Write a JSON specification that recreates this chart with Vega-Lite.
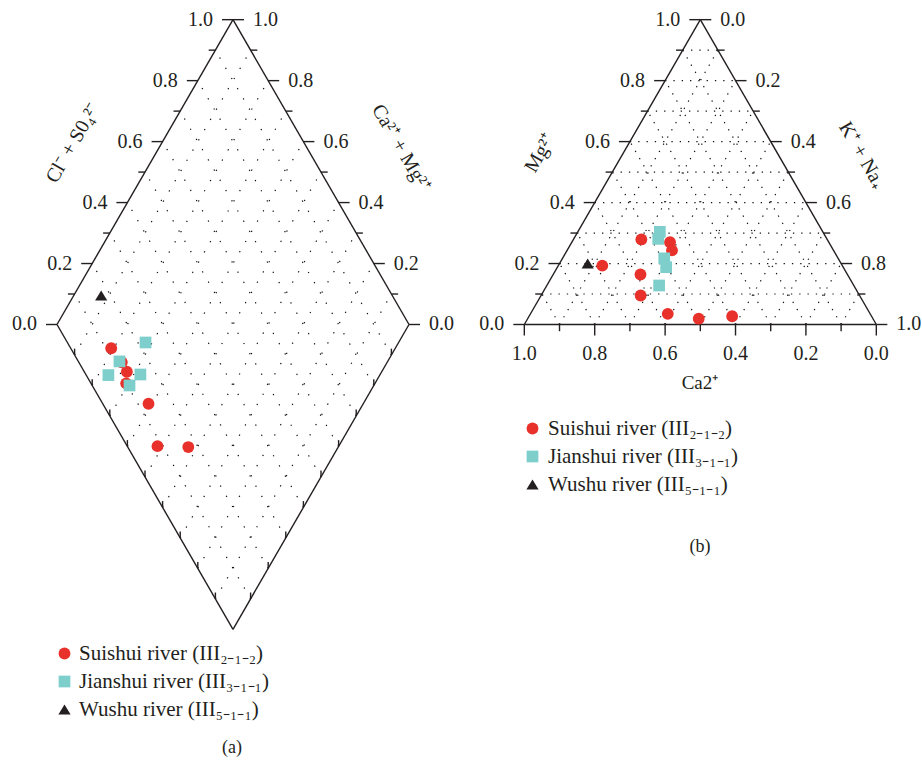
{
  "$schema": "https://vega.github.io/schema/vega-lite/v6.json",
  "width": 922,
  "height": 767,
  "padding": 0,
  "autosize": {"type": "none"},
  "background": "white",
  "config": {"view": {"stroke": null}, "font": "Liberation Serif"},
  "resolve": {"scale": {"color": "independent", "shape": "independent", "size": "independent"}},
  "layer": [
    {
      "data": {"values": [
        {"fam": "a", "v": [0, 0.1, 0.2, 0.3, 0.4, 0.5, 0.6, 0.7, 0.8, 0.9, 1]},
        {"fam": "b", "v": [0, 0.1, 0.2, 0.3, 0.4, 0.5, 0.6, 0.7, 0.8, 0.9, 1]}
      ]},
      "transform": [
        {"flatten": ["v"]},
        {"calculate": "datum.fam=='a' ? datum.v : 0", "as": "a1"},
        {"calculate": "datum.fam=='a' ? 0 : datum.v", "as": "b1"},
        {"calculate": "datum.fam=='a' ? datum.v : 1", "as": "a2"},
        {"calculate": "datum.fam=='a' ? 1 : datum.v", "as": "b2"},
        {"calculate": "0.5+0.5*(datum.a1-datum.b1)", "as": "x1"},
        {"calculate": "0.866*(datum.a1+datum.b1-1)", "as": "y1"},
        {"calculate": "0.5+0.5*(datum.a2-datum.b2)", "as": "x2"},
        {"calculate": "0.866*(datum.a2+datum.b2-1)", "as": "y2"},
        {"calculate": "datum.v<0.001 || datum.v>0.999", "as": "frame"}
      ],
      "layer": [
        {
          "transform": [{"filter": "!datum.frame"}],
          "mark": {"type": "rule", "strokeDash": [1.3, 10.5], "color": "#111111", "strokeWidth": 1.2},
          "encoding": {
            "x": {"field": "x1", "type": "quantitative", "scale": {"domain": [-0.16193, 2.45739], "nice": false, "zero": false}, "axis": null},
            "y": {"field": "y1", "type": "quantitative", "scale": {"domain": [-1.2571, 0.92187], "nice": false, "zero": false}, "axis": null},
            "x2": {"field": "x2"},
            "y2": {"field": "y2"}
          }
        },
        {
          "transform": [{"filter": "datum.frame"}],
          "mark": {"type": "rule", "color": "#231F20", "strokeWidth": 1.4},
          "encoding": {
            "x": {"field": "x1", "type": "quantitative", "scale": {"domain": [-0.16193, 2.45739], "nice": false, "zero": false}, "axis": null},
            "y": {"field": "y1", "type": "quantitative", "scale": {"domain": [-1.2571, 0.92187], "nice": false, "zero": false}, "axis": null},
            "x2": {"field": "x2"},
            "y2": {"field": "y2"}
          }
        }
      ]
    },
    {
      "data": {"values": [
        {"fam": "mg", "v": [0, 0.1, 0.2, 0.3, 0.4, 0.5, 0.6, 0.7, 0.8, 0.9]},
        {"fam": "ca", "v": [0, 0.1, 0.2, 0.3, 0.4, 0.5, 0.6, 0.7, 0.8, 0.9]},
        {"fam": "nak", "v": [0, 0.1, 0.2, 0.3, 0.4, 0.5, 0.6, 0.7, 0.8, 0.9]}
      ]},
      "transform": [
        {"flatten": ["v"]},
        {"calculate": "datum.fam=='mg' ? 0 : datum.fam=='ca' ? 1-datum.v : datum.v", "as": "n1"},
        {"calculate": "datum.fam=='mg' ? datum.v : 0", "as": "m1"},
        {"calculate": "datum.fam=='mg' ? 1-datum.v : datum.fam=='ca' ? 0 : datum.v", "as": "n2"},
        {"calculate": "datum.fam=='mg' ? datum.v : 1-datum.v", "as": "m2"},
        {"calculate": "1.3276+datum.n1+0.5*datum.m1", "as": "x1"},
        {"calculate": "0.866*datum.m1", "as": "y1"},
        {"calculate": "1.3276+datum.n2+0.5*datum.m2", "as": "x2"},
        {"calculate": "0.866*datum.m2", "as": "y2"},
        {"calculate": "datum.v<0.001", "as": "frame"}
      ],
      "layer": [
        {
          "transform": [{"filter": "!datum.frame"}],
          "mark": {"type": "rule", "strokeDash": [1.3, 7], "color": "#111111", "strokeWidth": 1.2},
          "encoding": {
            "x": {"field": "x1", "type": "quantitative", "scale": {"domain": [-0.16193, 2.45739], "nice": false, "zero": false}, "axis": null},
            "y": {"field": "y1", "type": "quantitative", "scale": {"domain": [-1.2571, 0.92187], "nice": false, "zero": false}, "axis": null},
            "x2": {"field": "x2"},
            "y2": {"field": "y2"}
          }
        },
        {
          "transform": [{"filter": "datum.frame"}],
          "mark": {"type": "rule", "color": "#231F20", "strokeWidth": 1.4},
          "encoding": {
            "x": {"field": "x1", "type": "quantitative", "scale": {"domain": [-0.16193, 2.45739], "nice": false, "zero": false}, "axis": null},
            "y": {"field": "y1", "type": "quantitative", "scale": {"domain": [-1.2571, 0.92187], "nice": false, "zero": false}, "axis": null},
            "x2": {"field": "x2"},
            "y2": {"field": "y2"}
          }
        }
      ]
    },
    {
      "data": {"values": [
        {"edge": "UL", "v": [0, 0.1, 0.2, 0.3, 0.4, 0.5, 0.6, 0.7, 0.8, 0.9, 1]},
        {"edge": "UR", "v": [0, 0.1, 0.2, 0.3, 0.4, 0.5, 0.6, 0.7, 0.8, 0.9, 1]},
        {"edge": "LL", "v": [0.1, 0.2, 0.3, 0.4, 0.5, 0.6, 0.7, 0.8, 0.9]},
        {"edge": "LR", "v": [0.1, 0.2, 0.3, 0.4, 0.5, 0.6, 0.7, 0.8, 0.9]},
        {"edge": "L", "v": [0, 0.1, 0.2, 0.3, 0.4, 0.5, 0.6, 0.7, 0.8, 0.9, 1]},
        {"edge": "R", "v": [0, 0.1, 0.2, 0.3, 0.4, 0.5, 0.6, 0.7, 0.8, 0.9, 1]},
        {"edge": "B", "v": [0, 0.1, 0.2, 0.3, 0.4, 0.5, 0.6, 0.7, 0.8, 0.9, 1]}
      ]},
      "transform": [
        {"flatten": ["v"]},
        {"calculate": "round(datum.v*10)%2==0", "as": "major"},
        {"calculate": "datum.major ? 0.03125 : 0.019", "as": "len"},
        {"calculate": "datum.edge=='UL' ? 0.5*datum.v : datum.edge=='UR' ? 1-0.5*datum.v : datum.edge=='LL' ? 0.5-0.5*datum.v : datum.edge=='LR' ? 0.5+0.5*datum.v : datum.edge=='L' ? 1.3276+0.5*datum.v : datum.edge=='R' ? 1.8276+0.5*datum.v : 2.3276-datum.v", "as": "px"},
        {"calculate": "(datum.edge=='UL'||datum.edge=='UR'||datum.edge=='L') ? 0.866*datum.v : (datum.edge=='LL'||datum.edge=='LR') ? 0.866*datum.v-0.866 : datum.edge=='R' ? 0.866*(1-datum.v) : 0", "as": "py"},
        {"calculate": "(datum.edge=='UL'||datum.edge=='L') ? datum.px-datum.len : (datum.edge=='UR'||datum.edge=='R') ? datum.px+datum.len : datum.px", "as": "tx"},
        {"calculate": "datum.edge=='B' ? datum.py-datum.len : (datum.edge=='LL'||datum.edge=='LR') ? datum.py+0.018 : datum.py", "as": "ty"},
        {"calculate": "format(datum.v, '.1f')", "as": "lab"}
      ],
      "layer": [
        {
          "mark": {"type": "rule", "color": "#231F20", "strokeWidth": 1.4},
          "encoding": {
            "x": {"field": "px", "type": "quantitative", "scale": {"domain": [-0.16193, 2.45739], "nice": false, "zero": false}, "axis": null},
            "y": {"field": "py", "type": "quantitative", "scale": {"domain": [-1.2571, 0.92187], "nice": false, "zero": false}, "axis": null},
            "x2": {"field": "tx"},
            "y2": {"field": "ty"}
          }
        },
        {
          "transform": [{"filter": "(datum.edge=='UL'||datum.edge=='L') && datum.major"}],
          "mark": {"type": "text", "align": "right", "baseline": "middle", "dx": -9, "fontSize": 20, "font": "Liberation Serif", "color": "#231F20"},
          "encoding": {
            "x": {"field": "tx", "type": "quantitative", "scale": {"domain": [-0.16193, 2.45739], "nice": false, "zero": false}, "axis": null},
            "y": {"field": "py", "type": "quantitative", "scale": {"domain": [-1.2571, 0.92187], "nice": false, "zero": false}, "axis": null},
            "text": {"field": "lab"}
          }
        },
        {
          "transform": [{"filter": "(datum.edge=='UR'||datum.edge=='R') && datum.major"}],
          "mark": {"type": "text", "align": "left", "baseline": "middle", "dx": 9, "fontSize": 20, "font": "Liberation Serif", "color": "#231F20"},
          "encoding": {
            "x": {"field": "tx", "type": "quantitative", "scale": {"domain": [-0.16193, 2.45739], "nice": false, "zero": false}, "axis": null},
            "y": {"field": "py", "type": "quantitative", "scale": {"domain": [-1.2571, 0.92187], "nice": false, "zero": false}, "axis": null},
            "text": {"field": "lab"}
          }
        },
        {
          "transform": [{"filter": "datum.edge=='B' && datum.major"}],
          "mark": {"type": "text", "align": "center", "baseline": "top", "dy": 9, "fontSize": 20, "font": "Liberation Serif", "color": "#231F20"},
          "encoding": {
            "x": {"field": "px", "type": "quantitative", "scale": {"domain": [-0.16193, 2.45739], "nice": false, "zero": false}, "axis": null},
            "y": {"field": "ty", "type": "quantitative", "scale": {"domain": [-1.2571, 0.92187], "nice": false, "zero": false}, "axis": null},
            "text": {"field": "lab"}
          }
        }
      ]
    },
    {
      "data": {"values": [{}]},
      "layer": [
        {
          "mark": {"type": "text", "text": "Cl⁻ + S0₄²⁻", "angle": -60, "align": "center", "baseline": "middle", "fontSize": 20, "font": "Liberation Serif", "color": "#231F20"},
          "encoding": {
            "x": {"datum": 0.0455, "type": "quantitative", "scale": {"domain": [-0.16193, 2.45739], "nice": false, "zero": false}, "axis": null},
            "y": {"datum": 0.5156, "type": "quantitative", "scale": {"domain": [-1.2571, 0.92187], "nice": false, "zero": false}, "axis": null}
          }
        },
        {
          "mark": {"type": "text", "text": "Ca²⁺ + Mg²⁺", "angle": 60, "align": "center", "baseline": "middle", "fontSize": 20, "font": "Liberation Serif", "color": "#231F20"},
          "encoding": {
            "x": {"datum": 0.9773, "type": "quantitative", "scale": {"domain": [-0.16193, 2.45739], "nice": false, "zero": false}, "axis": null},
            "y": {"datum": 0.5014, "type": "quantitative", "scale": {"domain": [-1.2571, 0.92187], "nice": false, "zero": false}, "axis": null}
          }
        },
        {
          "mark": {"type": "text", "text": "Mg²⁺", "angle": -60, "align": "center", "baseline": "middle", "fontSize": 20, "font": "Liberation Serif", "color": "#231F20"},
          "encoding": {
            "x": {"datum": 1.3722, "type": "quantitative", "scale": {"domain": [-0.16193, 2.45739], "nice": false, "zero": false}, "axis": null},
            "y": {"datum": 0.4872, "type": "quantitative", "scale": {"domain": [-1.2571, 0.92187], "nice": false, "zero": false}, "axis": null}
          }
        },
        {
          "mark": {"type": "text", "text": "K⁺ + Na₊", "angle": 60, "align": "center", "baseline": "middle", "fontSize": 20, "font": "Liberation Serif", "color": "#231F20"},
          "encoding": {
            "x": {"datum": 2.2869, "type": "quantitative", "scale": {"domain": [-0.16193, 2.45739], "nice": false, "zero": false}, "axis": null},
            "y": {"datum": 0.4815, "type": "quantitative", "scale": {"domain": [-1.2571, 0.92187], "nice": false, "zero": false}, "axis": null}
          }
        },
        {
          "mark": {"type": "text", "text": "Ca2⁺", "align": "center", "baseline": "middle", "fontSize": 19, "font": "Liberation Serif", "color": "#231F20"},
          "encoding": {
            "x": {"datum": 1.8267, "type": "quantitative", "scale": {"domain": [-0.16193, 2.45739], "nice": false, "zero": false}, "axis": null},
            "y": {"datum": -0.1662, "type": "quantitative", "scale": {"domain": [-1.2571, 0.92187], "nice": false, "zero": false}, "axis": null}
          }
        },
        {
          "mark": {"type": "text", "text": "(a)", "align": "center", "baseline": "middle", "fontSize": 18, "font": "Liberation Serif", "color": "#231F20"},
          "encoding": {
            "x": {"datum": 0.4972, "type": "quantitative", "scale": {"domain": [-0.16193, 2.45739], "nice": false, "zero": false}, "axis": null},
            "y": {"datum": -1.2031, "type": "quantitative", "scale": {"domain": [-1.2571, 0.92187], "nice": false, "zero": false}, "axis": null}
          }
        },
        {
          "mark": {"type": "text", "text": "(b)", "align": "center", "baseline": "middle", "fontSize": 18, "font": "Liberation Serif", "color": "#231F20"},
          "encoding": {
            "x": {"datum": 1.8267, "type": "quantitative", "scale": {"domain": [-0.16193, 2.45739], "nice": false, "zero": false}, "axis": null},
            "y": {"datum": -0.6321, "type": "quantitative", "scale": {"domain": [-1.2571, 0.92187], "nice": false, "zero": false}, "axis": null}
          }
        }
      ]
    },
    {
      "data": {"values": [
        {"river": "Suishui river (III₂₋₁₋₂)", "clso4": 0.115, "camg": 0.807},
        {"river": "Suishui river (III₂₋₁₋₂)", "clso4": 0.122, "camg": 0.754},
        {"river": "Suishui river (III₂₋₁₋₂)", "clso4": 0.121, "camg": 0.724},
        {"river": "Suishui river (III₂₋₁₋₂)", "clso4": 0.100, "camg": 0.707},
        {"river": "Suishui river (III₂₋₁₋₂)", "clso4": 0.130, "camg": 0.610},
        {"river": "Suishui river (III₂₋₁₋₂)", "clso4": 0.086, "camg": 0.515},
        {"river": "Suishui river (III₂₋₁₋₂)", "clso4": 0.172, "camg": 0.426},
        {"river": "Jianshui river (III₃₋₁₋₁)", "clso4": 0.222, "camg": 0.719},
        {"river": "Jianshui river (III₃₋₁₋₁)", "clso4": 0.117, "camg": 0.762},
        {"river": "Jianshui river (III₃₋₁₋₁)", "clso4": 0.063, "camg": 0.771},
        {"river": "Jianshui river (III₃₋₁₋₁)", "clso4": 0.155, "camg": 0.681},
        {"river": "Jianshui river (III₃₋₁₋₁)", "clso4": 0.106, "camg": 0.694},
        {"river": "Wushu river (III₅₋₁₋₁)", "clso4": 0.173, "camg": 0.922}
      ]},
      "transform": [
        {"calculate": "0.5+0.5*(datum.clso4-datum.camg)", "as": "x"},
        {"calculate": "0.866*(datum.clso4+datum.camg-1)", "as": "y"}
      ],
      "mark": {"type": "point", "filled": true, "opacity": 1, "strokeWidth": 0},
      "encoding": {
        "x": {"field": "x", "type": "quantitative", "scale": {"domain": [-0.16193, 2.45739], "nice": false, "zero": false}, "axis": null},
        "y": {"field": "y", "type": "quantitative", "scale": {"domain": [-1.2571, 0.92187], "nice": false, "zero": false}, "axis": null},
        "color": {"field": "river", "type": "nominal",
          "scale": {"domain": ["Suishui river (III₂₋₁₋₂)", "Jianshui river (III₃₋₁₋₁)", "Wushu river (III₅₋₁₋₁)"], "range": ["#E8312A", "#7ECFCC", "#231F20"]},
          "legend": {"title": null, "orient": "none", "legendX": 54, "legendY": 643, "padding": 0, "labelFont": "Liberation Serif", "labelFontSize": 21, "labelColor": "#231F20", "symbolSize": 160, "symbolStrokeWidth": 0, "rowPadding": 6, "labelOffset": 4, "labelLimit": 400}},
        "shape": {"field": "river", "type": "nominal",
          "scale": {"domain": ["Suishui river (III₂₋₁₋₂)", "Jianshui river (III₃₋₁₋₁)", "Wushu river (III₅₋₁₋₁)"], "range": ["circle", "square", "M0,-0.86L1.05,0.86L-1.05,0.86Z"]},
          "legend": {"title": null, "orient": "none", "legendX": 54, "legendY": 643, "padding": 0, "labelFont": "Liberation Serif", "labelFontSize": 21, "labelColor": "#231F20", "symbolSize": 160, "symbolStrokeWidth": 0, "rowPadding": 6, "labelOffset": 4, "labelLimit": 400}},
        "size": {"field": "river", "type": "ordinal",
          "scale": {"domain": ["Suishui river (III₂₋₁₋₂)", "Jianshui river (III₃₋₁₋₁)", "Wushu river (III₅₋₁₋₁)"], "range": [140, 135, 180]},
          "legend": null}
      }
    },
    {
      "data": {"values": [
        {"river": "Suishui river (III₂₋₁₋₂)", "ca": 0.682, "mg": 0.193, "nak": 0.125},
        {"river": "Suishui river (III₂₋₁₋₂)", "ca": 0.528, "mg": 0.279, "nak": 0.193},
        {"river": "Suishui river (III₂₋₁₋₂)", "ca": 0.451, "mg": 0.270, "nak": 0.279},
        {"river": "Suishui river (III₂₋₁₋₂)", "ca": 0.459, "mg": 0.243, "nak": 0.298},
        {"river": "Suishui river (III₂₋₁₋₂)", "ca": 0.588, "mg": 0.164, "nak": 0.248},
        {"river": "Suishui river (III₂₋₁₋₂)", "ca": 0.622, "mg": 0.095, "nak": 0.283},
        {"river": "Suishui river (III₂₋₁₋₂)", "ca": 0.575, "mg": 0.035, "nak": 0.390},
        {"river": "Suishui river (III₂₋₁₋₂)", "ca": 0.495, "mg": 0.019, "nak": 0.486},
        {"river": "Suishui river (III₂₋₁₋₂)", "ca": 0.396, "mg": 0.027, "nak": 0.577},
        {"river": "Jianshui river (III₃₋₁₋₁)", "ca": 0.463, "mg": 0.304, "nak": 0.233},
        {"river": "Jianshui river (III₃₋₁₋₁)", "ca": 0.479, "mg": 0.281, "nak": 0.240},
        {"river": "Jianshui river (III₃₋₁₋₁)", "ca": 0.494, "mg": 0.217, "nak": 0.289},
        {"river": "Jianshui river (III₃₋₁₋₁)", "ca": 0.503, "mg": 0.188, "nak": 0.309},
        {"river": "Jianshui river (III₃₋₁₋₁)", "ca": 0.553, "mg": 0.128, "nak": 0.319},
        {"river": "Wushu river (III₅₋₁₋₁)", "ca": 0.720, "mg": 0.200, "nak": 0.080}
      ]},
      "transform": [
        {"calculate": "1.3276+datum.nak+0.5*datum.mg", "as": "x"},
        {"calculate": "0.866*datum.mg", "as": "y"}
      ],
      "mark": {"type": "point", "filled": true, "opacity": 1, "strokeWidth": 0},
      "encoding": {
        "x": {"field": "x", "type": "quantitative", "scale": {"domain": [-0.16193, 2.45739], "nice": false, "zero": false}, "axis": null},
        "y": {"field": "y", "type": "quantitative", "scale": {"domain": [-1.2571, 0.92187], "nice": false, "zero": false}, "axis": null},
        "color": {"field": "river", "type": "nominal",
          "scale": {"domain": ["Suishui river (III₂₋₁₋₂)", "Jianshui river (III₃₋₁₋₁)", "Wushu river (III₅₋₁₋₁)"], "range": ["#E8312A", "#7ECFCC", "#231F20"]},
          "legend": {"title": null, "orient": "none", "legendX": 522, "legendY": 418, "padding": 0, "labelFont": "Liberation Serif", "labelFontSize": 21, "labelColor": "#231F20", "symbolSize": 160, "symbolStrokeWidth": 0, "rowPadding": 6, "labelOffset": 5, "labelLimit": 400}},
        "shape": {"field": "river", "type": "nominal",
          "scale": {"domain": ["Suishui river (III₂₋₁₋₂)", "Jianshui river (III₃₋₁₋₁)", "Wushu river (III₅₋₁₋₁)"], "range": ["circle", "square", "M0,-0.86L1.05,0.86L-1.05,0.86Z"]},
          "legend": {"title": null, "orient": "none", "legendX": 522, "legendY": 418, "padding": 0, "labelFont": "Liberation Serif", "labelFontSize": 21, "labelColor": "#231F20", "symbolSize": 160, "symbolStrokeWidth": 0, "rowPadding": 6, "labelOffset": 5, "labelLimit": 400}},
        "size": {"field": "river", "type": "ordinal",
          "scale": {"domain": ["Suishui river (III₂₋₁₋₂)", "Jianshui river (III₃₋₁₋₁)", "Wushu river (III₅₋₁₋₁)"], "range": [140, 135, 180]},
          "legend": null}
      }
    }
  ]
}
